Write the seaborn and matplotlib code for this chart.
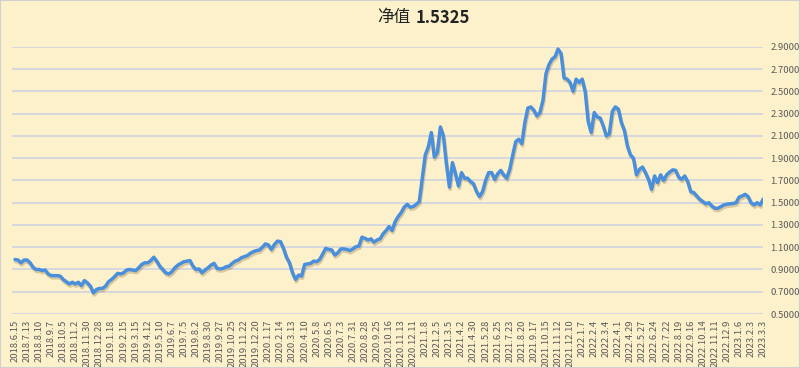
import numpy as np
import pandas as pd
import matplotlib
matplotlib.use("Agg")
import matplotlib.pyplot as plt
import matplotlib.patheffects as pe
from matplotlib.patches import Rectangle
import seaborn as sns

# weekly NAV readings, 2018.6.15 .. 2023.3.3
nav = [
    0.99, 0.985, 0.96, 0.985, 0.985, 0.96, 0.92, 0.90, 0.90, 0.89,
    0.895, 0.86, 0.845, 0.845, 0.845, 0.84, 0.81, 0.79, 0.77, 0.785,
    0.77, 0.785, 0.755, 0.80, 0.78, 0.75, 0.69, 0.72, 0.73, 0.73,
    0.75, 0.79, 0.81, 0.835, 0.865, 0.86, 0.87, 0.895, 0.90, 0.895,
    0.89, 0.915, 0.945, 0.96, 0.96, 0.98, 1.01, 0.975, 0.93, 0.90,
    0.87, 0.86, 0.88, 0.915, 0.94, 0.955, 0.97, 0.975, 0.98, 0.93,
    0.90, 0.905, 0.87, 0.895, 0.915, 0.94, 0.955, 0.91, 0.905, 0.91,
    0.925, 0.93, 0.955, 0.975, 0.985, 1.005, 1.015, 1.025, 1.045, 1.06,
    1.07, 1.075, 1.10, 1.13, 1.12, 1.08, 1.125, 1.155, 1.15, 1.09,
    1.01, 0.96, 0.87, 0.81, 0.85, 0.84, 0.945, 0.95, 0.955, 0.975,
    0.97, 0.99, 1.04, 1.09, 1.08, 1.075, 1.03, 1.05, 1.085, 1.085,
    1.08, 1.07, 1.085, 1.105, 1.11, 1.19, 1.18, 1.165, 1.175, 1.145,
    1.165, 1.175, 1.22, 1.25, 1.285, 1.25, 1.33, 1.375, 1.41, 1.46,
    1.485, 1.46, 1.465, 1.485, 1.51, 1.72, 1.93, 2.00, 2.13, 1.91,
    1.95, 2.18, 2.10, 1.85, 1.64, 1.86, 1.76, 1.65, 1.77, 1.72,
    1.72, 1.69, 1.67, 1.60, 1.555, 1.60, 1.70, 1.77, 1.77, 1.71,
    1.76, 1.79, 1.75, 1.72, 1.80, 1.93, 2.05, 2.07, 2.03, 2.22,
    2.35, 2.36, 2.33, 2.28, 2.31, 2.42, 2.66, 2.74, 2.79, 2.81,
    2.88, 2.84, 2.62, 2.61, 2.58, 2.50, 2.61, 2.58, 2.61, 2.50,
    2.23, 2.13, 2.31, 2.27, 2.26, 2.19, 2.10, 2.12, 2.32, 2.36,
    2.34, 2.22, 2.15, 2.01, 1.93, 1.90, 1.75, 1.80, 1.82, 1.77,
    1.71, 1.62, 1.74, 1.68, 1.75, 1.70, 1.75, 1.775, 1.795, 1.79,
    1.73, 1.71, 1.74, 1.69, 1.60, 1.59, 1.56, 1.53, 1.51, 1.49,
    1.50, 1.47, 1.45, 1.45, 1.465, 1.48, 1.487, 1.49, 1.493, 1.50,
    1.55, 1.56, 1.575, 1.555, 1.50, 1.48, 1.50, 1.48, 1.5325,
]

tick_labels = [
    "2018.6.15", "2018.7.13", "2018.8.10", "2018.9.7", "2018.10.5", "2018.11.2",
    "2018.11.30", "2018.12.28", "2019.1.18", "2019.2.15", "2019.3.15", "2019.4.12",
    "2019.5.10", "2019.6.7", "2019.7.5", "2019.8.2", "2019.8.30", "2019.9.27",
    "2019.10.25", "2019.11.22", "2019.12.20", "2020.1.17", "2020.2.14", "2020.3.13",
    "2020.4.10", "2020.5.8", "2020.6.5", "2020.7.3", "2020.7.31", "2020.8.28",
    "2020.9.25", "2020.10.16", "2020.11.13", "2020.12.11", "2021.1.8", "2021.2.5",
    "2021.3.5", "2021.4.2", "2021.4.30", "2021.5.28", "2021.6.25", "2021.7.23",
    "2021.8.20", "2021.9.17", "2021.10.15", "2021.11.12", "2021.12.10", "2022.1.7",
    "2022.2.4", "2022.3.4", "2022.4.1", "2022.4.29", "2022.5.27", "2022.6.24",
    "2022.7.22", "2022.8.19", "2022.9.16", "2022.10.14", "2022.11.11", "2022.12.9",
    "2023.1.6", "2023.2.3", "2023.3.3",
]
label_step = 4
y_ticks = [0.5, 0.7, 0.9, 1.1, 1.3, 1.5, 1.7, 1.9, 2.1, 2.3, 2.5, 2.7, 2.9]

bg = "#fdf1cb"
grid_c = "#cfd3e2"
line_c = "#4a8fdb"
text_c = "#5a5a5a"

sns.set_style("white", {"axes.facecolor": bg, "figure.facecolor": bg})
plt.rcParams["font.family"] = ["Noto Sans CJK SC", "DejaVu Sans"]

df = pd.DataFrame({"i": np.arange(len(nav)), "nav": nav})

fig = plt.figure(figsize=(8, 3.68), dpi=100)
ax = fig.add_axes([0.015, 0.1467, 0.939, 0.726])

sns.lineplot(data=df, x="i", y="nav", ax=ax, color=line_c, linewidth=2.5,
             path_effects=[pe.SimpleLineShadow(offset=(0.6, -1.6), shadow_color="#8a6a30", alpha=0.3),
                           pe.Normal()])

ax.set_xlim(-1, len(nav) - 1)
ax.set_ylim(0.5, 2.9)
ax.set_yticks(y_ticks)
ax.set_yticklabels([f"{v:.4f}" for v in y_ticks])
ax.yaxis.tick_right()
ax.set_xticks(np.arange(len(tick_labels)) * label_step)
ax.set_xticklabels(tick_labels, rotation=90)
ax.tick_params(axis="both", length=0, labelsize=6.8, labelcolor=text_c)
ax.tick_params(axis="y", pad=5)
ax.tick_params(axis="x", pad=4)
ax.set_xlabel("")
ax.set_ylabel("")
ax.grid(axis="y", color=grid_c, linewidth=1.2)
ax.grid(axis="x", visible=False)
ax.set_axisbelow(True)
for s in ax.spines.values():
    s.set_visible(False)

# title: CJK part regular, number bold
fig.text(0.513, 0.952, "净值", ha="right", va="center", fontsize=12, color="#222222")
fig.text(0.519, 0.952, "1.5325", ha="left", va="center", fontsize=12,
         fontweight="bold", color="#222222")
fig.patches.append(Rectangle((0, 0), 1, 1, transform=fig.transFigure, fill=False,
                             edgecolor="#d0d0d0", linewidth=1.5))

fig.savefig("out.png", dpi=100, facecolor=bg)
